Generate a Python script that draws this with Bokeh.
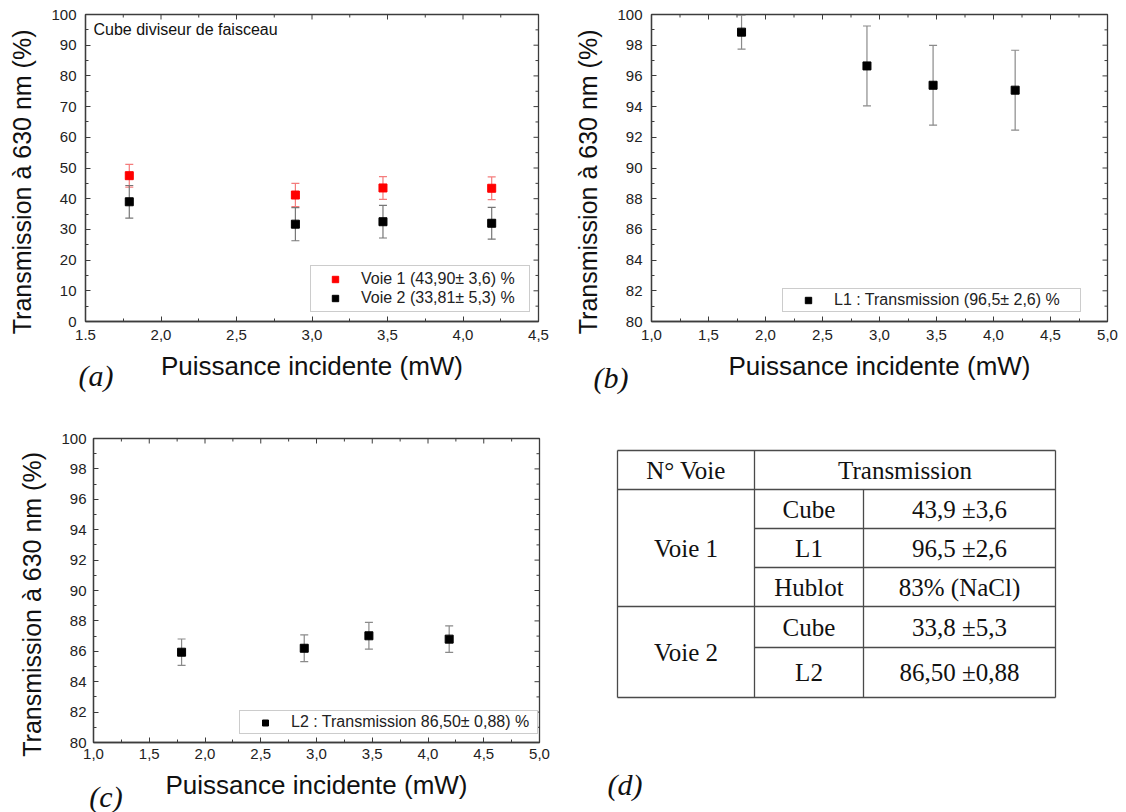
import numpy as np
from bokeh.plotting import figure
from bokeh.models import (ColumnDataSource, Whisker, TeeHead, FixedTicker,
                          Legend, LegendItem, Label, Range1d, Div)
from bokeh.layouts import column, row
from bokeh.embed import file_html
from bokeh.resources import INLINE
from bokeh.core.properties import value

# ---------------- data ----------------
power_mw = [1.79, 2.89, 3.47, 4.19]

voie1_cube = [47.5, 41.2, 43.5, 43.4]
voie1_cube_err = [3.7, 3.8, 3.7, 3.7]
voie2_cube = [39.0, 31.7, 32.5, 32.0]
voie2_cube_err = [5.3, 5.4, 5.3, 5.2]

l1_trans = [98.85, 96.65, 95.39, 95.07]
l1_err = [1.1, 2.6, 2.6, 2.6]

l2_trans = [85.94, 86.20, 87.02, 86.80]
l2_err = [0.87, 0.88, 0.88, 0.87]

a_xticks = [1.5, 2.0, 2.5, 3.0, 3.5, 4.0, 4.5]
a_xminor = [1.75, 2.25, 2.75, 3.25, 3.75, 4.25]
a_xtick_labels = ["1.5", "2,0", "2,5", "3,0", "3,5", "4,0", "4,5"]
a_yticks = [0, 10, 20, 30, 40, 50, 60, 70, 80, 90, 100]
a_yminor = [5, 15, 25, 35, 45, 55, 65, 75, 85, 95]
bc_xticks = [1.0, 1.5, 2.0, 2.5, 3.0, 3.5, 4.0, 4.5, 5.0]
bc_xminor = [1.25, 1.75, 2.25, 2.75, 3.25, 3.75, 4.25, 4.75]
bc_xtick_labels = ["1,0", "1,5", "2,0", "2,5", "3,0", "3,5", "4,0", "4,5", "5,0"]
bc_yticks = [80, 82, 84, 86, 88, 90, 92, 94, 96, 98, 100]
bc_yminor = [81, 83, 85, 87, 89, 91, 93, 95, 97, 99]

legend_voie1 = "Voie 1 (43,90\u00b1 3,6) %"
legend_voie2 = "Voie 2 (33,81\u00b1 5,3) %"
legend_l1 = "L1 : Transmission (96,5\u00b1 2,6) %"
legend_l2 = "L2 : Transmission 86,50\u00b1 0,88) %"
note_a = "Cube diviseur de faisceau"
x_title = "Puissance incidente (mW)"
y_title = "Transmission \u00e0 630 nm (%)"
panel_tags = ["(a)", "(b)", "(c)", "(d)"]

# table (d): (text, col_start, col_end, row_start, row_end)
table_cells = [
    ("N\u00b0 Voie", 0, 1, 0, 1),
    ("Transmission", 1, 3, 0, 1),
    ("Voie 1", 0, 1, 1, 4),
    ("Cube", 1, 2, 1, 2), ("43,9 \u00b13,6", 2, 3, 1, 2),
    ("L1", 1, 2, 2, 3), ("96,5 \u00b12,6", 2, 3, 2, 3),
    ("Hublot", 1, 2, 3, 4), ("83% (NaCl)", 2, 3, 3, 4),
    ("Voie 2", 0, 1, 4, 6),
    ("Cube", 1, 2, 4, 5), ("33,8 \u00b15,3", 2, 3, 4, 5),
    ("L2", 1, 2, 5, 6), ("86,50 \u00b10,88", 2, 3, 5, 6),
]
# ---------------- layout (page pixels) ----------------
table_col_edges = [617, 754, 863, 1055]
table_row_edges = [450, 489, 528, 567, 606, 647, 697]
table_full_rows = [0, 1, 4, 6]
tag_centers = [(91, 371), (606, 373), (101, 792), (620, 780)]

SANS = "Liberation Sans"
SERIF = "Liberation Serif"
FRAME = "#3c3c3c"
NBSP = "\u00a0"


def make_panel(width, height, xr, yr, borders, xticks, xminor, xlabels, yticks, yminor,
               xmaj_so, xlab_so, ymaj_so, ylab_so, ylab_pad):
    left, right, top, bottom = borders
    p = figure(width=width, height=height, x_range=Range1d(*xr), y_range=Range1d(*yr),
               toolbar_location=None, tools="", output_backend="svg",
               min_border_left=left, min_border_right=right,
               min_border_top=top, min_border_bottom=bottom)
    p.grid.visible = False
    p.outline_line_color = FRAME
    p.outline_line_width = 1.3
    p.background_fill_color = "white"
    p.border_fill_color = "white"

    xa = p.xaxis[0]
    xa.ticker = FixedTicker(ticks=xticks, minor_ticks=xminor)
    xa.major_label_overrides = {t: s for t, s in zip(xticks, xlabels)}
    ya = p.yaxis[0]
    ya.ticker = FixedTicker(ticks=yticks, minor_ticks=yminor)
    ya.major_label_overrides = {t: str(t) for t in yticks}
    for ax, so, lso, lab, fs in ((xa, xmaj_so, xlab_so, x_title, "26px"),
                                 (ya, ymaj_so, ylab_so, y_title + NBSP * ylab_pad, "25px")):
        ax.axis_label = lab
        ax.axis_label_text_font = SANS
        ax.axis_label_text_font_size = fs
        ax.axis_label_text_font_style = "normal"
        ax.axis_label_text_color = "#111111"
        ax.axis_label_standoff = lso
        ax.major_label_text_font = SANS
        ax.major_label_text_font_size = "15px"
        ax.major_label_text_color = "#222222"
        ax.major_label_standoff = so
        ax.major_tick_in = 5
        ax.major_tick_out = 0
        ax.minor_tick_in = 3
        ax.minor_tick_out = 0
        ax.axis_line_color = FRAME
        ax.axis_line_width = 1.3
        ax.major_tick_line_color = FRAME
        ax.minor_tick_line_color = FRAME
    # mirrored inward ticks on the top and right edges
    p.ray(x=xticks, y=[yr[1]] * len(xticks), length=5, length_units="screen",
          angle=-np.pi / 2, line_color=FRAME, line_width=1)
    p.ray(x=xminor, y=[yr[1]] * len(xminor), length=3, length_units="screen",
          angle=-np.pi / 2, line_color=FRAME, line_width=1)
    p.ray(x=[xr[1]] * len(yticks), y=yticks, length=5, length_units="screen",
          angle=np.pi, line_color=FRAME, line_width=1)
    p.ray(x=[xr[1]] * len(yminor), y=yminor, length=3, length_units="screen",
          angle=np.pi, line_color=FRAME, line_width=1)
    return p


def add_series(p, ys, errs, color, err_color, size=8):
    src = ColumnDataSource(dict(x=power_mw, y=ys,
                                upper=[v + e for v, e in zip(ys, errs)],
                                lower=[v - e for v, e in zip(ys, errs)]))
    w = Whisker(base="x", upper="upper", lower="lower", source=src, dimension="height",
                line_color=err_color, line_width=1.2,
                upper_head=TeeHead(size=8, line_color=err_color, line_width=1.2),
                lower_head=TeeHead(size=8, line_color=err_color, line_width=1.2))
    p.add_layout(w)
    r = p.scatter("x", "y", source=src, marker="square", size=size,
                  fill_color=color, line_color=color)
    return r


def add_legend(p, items, loc, glyph_w, standoff, label_w, padding, row_h):
    lg = Legend(items=[LegendItem(label=t, renderers=[r]) for t, r in items],
                location=loc, orientation="vertical",
                glyph_width=glyph_w, glyph_height=row_h, label_height=row_h,
                label_width=label_w, label_standoff=standoff, padding=padding,
                spacing=1, margin=0,
                label_text_font=SANS, label_text_font_size="16px",
                label_text_color="#222222",
                border_line_color="#9a9a9a", border_line_width=1,
                background_fill_color="white", background_fill_alpha=1.0)
    p.add_layout(lg)


# ---------------- panel (a) ----------------
pa = make_panel(566, 405, (1.5, 4.5), (0, 100), (85, 28, 14, 84),
                a_xticks, a_xminor, a_xtick_labels, a_yticks, a_yminor,
                8, 8, 9, 12, 4)
r1 = add_series(pa, voie1_cube, voie1_cube_err, "#ff0000", "#f47c7c")
r2 = add_series(pa, voie2_cube, voie2_cube_err, "#000000", "#777777")
add_legend(pa, [(legend_voie1, r1), (legend_voie2, r2)], (225, 9), 40, 6, 164, 4, 16)
pa.add_layout(Label(x=1.553, y=95.1, text=note_a, text_font=SANS, text_font_size="16px",
                    text_baseline="middle", text_color="#111111"))

# ---------------- panel (b) ----------------
pb = make_panel(560, 405, (1.0, 5.0), (80, 100), (85, 19, 14, 84),
                bc_xticks, bc_xminor, bc_xtick_labels, bc_yticks, bc_yminor,
                8, 8, 9, 12, 4)
rb = add_series(pb, l1_trans, l1_err, "#000000", "#8a8a8a")
add_legend(pb, [(legend_l1, rb)], (131, 9), 46, 3, 244, 2, 16)

# ---------------- panel (c) ----------------
pc = make_panel(566, 407, (1.0, 5.0), (80, 100), (93, 27, 33, 70),
                bc_xticks, bc_xminor, bc_xtick_labels, bc_yticks, bc_yminor,
                6, 8, 7, 12, 4)
rc = add_series(pc, l2_trans, l2_err, "#000000", "#8a8a8a")
add_legend(pc, [(legend_l2, rc)], (146, 8), 46, 3, 244, 2, 15)

# ---------------- panel (d): table ----------------
pd = figure(width=560, height=407, x_range=Range1d(566, 1126), y_range=Range1d(742, 438),
            toolbar_location=None, tools="", output_backend="svg",
            min_border_left=0, min_border_right=0, min_border_top=33, min_border_bottom=70,
            x_axis_type=None, y_axis_type=None)
pd.grid.visible = False
pd.outline_line_color = None

hx0, hx1, hy = [], [], []
for i, yv in enumerate(table_row_edges):
    hx0.append(table_col_edges[0] if i in table_full_rows else table_col_edges[1])
    hx1.append(table_col_edges[-1])
    hy.append(yv)
pd.segment(x0=hx0, y0=hy, x1=hx1, y1=hy, line_color="#4a4a4a", line_width=1.3)
vx, vy0, vy1 = [], [], []
for j, xv in enumerate(table_col_edges):
    vx.append(xv)
    vy0.append(table_row_edges[1] if j == 2 else table_row_edges[0])
    vy1.append(table_row_edges[-1])
pd.segment(x0=vx, y0=vy0, x1=vx, y1=vy1, line_color="#4a4a4a", line_width=1.3)

tx, ty, tt = [], [], []
for text, c0, c1, r0, r1_ in table_cells:
    tx.append((table_col_edges[c0] + table_col_edges[c1]) / 2)
    ty.append((table_row_edges[r0] + table_row_edges[r1_]) / 2)
    tt.append(text)
pd.text(x=tx, y=ty, text=tt, text_font=value(SERIF), text_font_size="25px",
        text_align="center", text_baseline="middle", text_color="#111111")

# ---------------- panel tags (a)-(d), placed over the page ----------------
tag_divs = []
for tag, (cx, cy) in zip(panel_tags, tag_centers):
    tag_divs.append(Div(text=tag, width=80, height=34, styles={
        "position": "absolute", "left": f"{cx - 40}px", "top": f"{cy - 17}px",
        "font-family": SERIF, "font-style": "italic", "font-size": "30px",
        "line-height": "34px", "text-align": "center", "color": "#111111",
        "white-space": "nowrap"}))

layout = column(row(pa, pb), row(pc, pd), *tag_divs)
open("out.html", "w").write(file_html(layout, INLINE))
